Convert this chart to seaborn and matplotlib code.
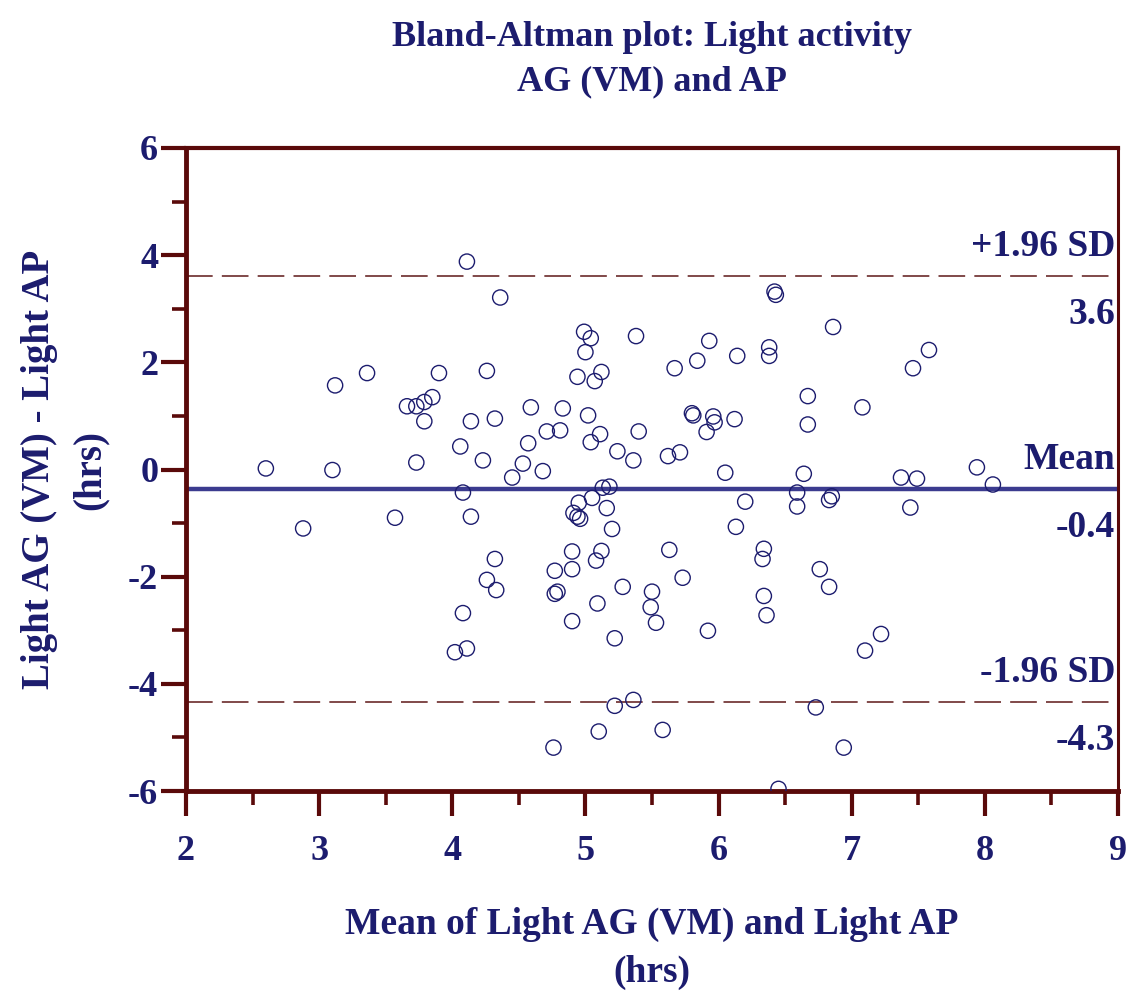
import matplotlib
matplotlib.use('Agg')
import matplotlib.pyplot as plt
from matplotlib.ticker import MultipleLocator
import seaborn as sns
import pandas as pd

sns.set_style('white')
plt.rcParams['font.family'] = ['Liberation Serif', 'DejaVu Serif']
plt.rcParams['font.weight'] = 'bold'
plt.rcParams['axes.unicode_minus'] = False

navy = '#1c1c6e'
maroon = '#5a0a0a'

# mean of the two methods (hrs)
mean_x = [2.60, 2.88, 3.10, 3.12, 3.36, 3.57, 3.66, 3.73, 3.73, 3.79, 3.79, 3.85, 3.90,
          4.02, 4.06, 4.08, 4.08, 4.11, 4.11, 4.14, 4.14, 4.23, 4.26, 4.26, 4.32, 4.32,
          4.33, 4.36, 4.45, 4.53, 4.57, 4.59, 4.68, 4.71, 4.76, 4.77, 4.77, 4.79, 4.81,
          4.83, 4.90, 4.90, 4.90, 4.91, 4.94, 4.96, 4.94, 4.95, 4.99, 5.00, 5.02, 5.04,
          5.04, 5.05, 5.07, 5.08, 5.09, 5.10, 5.11, 5.12, 5.12, 5.13, 5.16, 5.18, 5.20,
          5.22, 5.22, 5.24, 5.28, 5.36, 5.36, 5.38, 5.40, 5.49, 5.50, 5.53, 5.58, 5.62,
          5.63, 5.67, 5.71, 5.73, 5.80, 5.81, 5.84, 5.91, 5.92, 5.93, 5.96, 5.97, 6.05,
          6.12, 6.13, 6.14, 6.20, 6.33, 6.34, 6.34, 6.36, 6.38, 6.38, 6.42, 6.43, 6.45,
          6.59, 6.59, 6.64, 6.67, 6.67, 6.73, 6.76, 6.83, 6.83, 6.85, 6.86, 6.94, 7.08,
          7.10, 7.22, 7.37, 7.44, 7.46, 7.49, 7.58, 7.94, 8.06]
# difference AG (VM) - AP (hrs)
diff_y = [0.02, -1.10, -0.01, 1.57, 1.80, -0.90, 1.18, 1.18, 0.13, 1.26, 0.90, 1.35, 1.80,
          -3.41, 0.43, -0.43, -2.68, 3.88, -3.34, 0.90, -0.88, 0.17, 1.84, -2.06, 0.95, -1.67,
          -2.25, 3.21, -0.15, 0.11, 0.49, 1.16, -0.03, 0.71, -5.19, -1.89, -2.32, -2.28, 0.73,
          1.14, -1.53, -1.86, -2.83, -0.81, -0.88, -0.92, 1.73, -0.62, 2.57, 2.19, 1.01, 2.45,
          0.51, -0.53, 1.65, -1.70, -2.50, -4.89, 0.66, 1.82, -1.52, -0.34, -0.72, -0.32, -1.11,
          -3.15, -4.41, 0.34, -2.19, 0.17, -4.30, 2.49, 0.71, -2.57, -2.28, -2.86, -4.86, 0.25,
          -1.50, 1.89, 0.32, -2.02, 1.05, 1.01, 2.03, 0.70, -3.01, 2.40, 0.99, 0.88, -0.06,
          0.94, -1.07, 2.12, -0.60, -1.67, -1.48, -2.36, -2.72, 2.28, 2.12, 3.32, 3.26, -5.96,
          -0.43, -0.69, -0.08, 1.37, 0.84, -4.44, -1.86, -2.19, -0.57, -0.50, 2.66, -5.19, 1.16,
          -3.38, -3.07, -0.15, -0.71, 1.89, -0.17, 2.23, 0.04, -0.28]

bias = -0.36
upper_loa = 3.62
lower_loa = -4.34
line_labels = [('+1.96 SD', '3.6'), ('Mean', '-0.4'), ('-1.96 SD', '-4.3')]

df = pd.DataFrame({'mean': mean_x, 'diff': diff_y})

fig = plt.figure(figsize=(11.36, 10), dpi=100)
ax = fig.add_axes([0.1637, 0.209, 0.8205, 0.643])

sns.scatterplot(data=df, x='mean', y='diff', ax=ax, marker='o', s=120,
                facecolors='none', edgecolor=navy, linewidth=1.0, zorder=3)

ax.axhline(bias, color='#3b3b8f', lw=3.2, zorder=2)
ax.axhline(upper_loa, color='#6b2a2a', lw=1.2, dashes=(16, 5.5), zorder=2)
ax.axhline(lower_loa, color='#6b2a2a', lw=1.2, dashes=(16, 5.5), zorder=2)

# labels for the lines
for yv, (top, bottom) in zip([upper_loa, bias, lower_loa], line_labels):
    ax.annotate(top, xy=(0.997, yv), xycoords=ax.get_yaxis_transform(),
                xytext=(0, 21), textcoords='offset points', ha='right', va='center',
                fontsize=27, color=navy, fontweight='bold')
    ax.annotate(bottom, xy=(0.997, yv), xycoords=ax.get_yaxis_transform(),
                xytext=(0, -28), textcoords='offset points', ha='right', va='center',
                fontsize=27, color=navy, fontweight='bold')

ax.set_xlim(2, 9)
ax.set_ylim(-6, 6)
ax.xaxis.set_major_locator(MultipleLocator(1))
ax.xaxis.set_minor_locator(MultipleLocator(0.5))
ax.yaxis.set_major_locator(MultipleLocator(2))
ax.yaxis.set_minor_locator(MultipleLocator(1))
ax.tick_params(which='major', direction='out', color=maroon, width=3, length=18,
               labelsize=26, labelcolor=navy, left=True, bottom=True)
ax.tick_params(which='minor', direction='out', color=maroon, width=2.6, length=10,
               left=True, bottom=True)
ax.tick_params(axis='x', which='major', pad=14)
ax.tick_params(axis='y', which='major', pad=2)

for sp in ax.spines.values():
    sp.set_color(maroon)
    sp.set_linewidth(3.5)
ax.spines['top'].set_linewidth(3.0)
ax.spines['right'].set_linewidth(2.2)

ax.set_xlabel('Mean of Light AG (VM) and Light AP\n(hrs)', fontsize=27,
              color=navy, fontweight='bold', labelpad=28, linespacing=1.45)
ax.set_ylabel('Light AG (VM) - Light AP\n(hrs)', fontsize=28,
              color=navy, fontweight='bold', labelpad=14, linespacing=1.5)
ax.grid(False)

fig.text(0.574, 0.979, 'Bland-Altman plot: Light activity\nAG (VM) and AP', ha='center',
         va='top', fontsize=26, color=navy, fontweight='bold', linespacing=1.45)

fig.savefig('out.png', dpi=100)
